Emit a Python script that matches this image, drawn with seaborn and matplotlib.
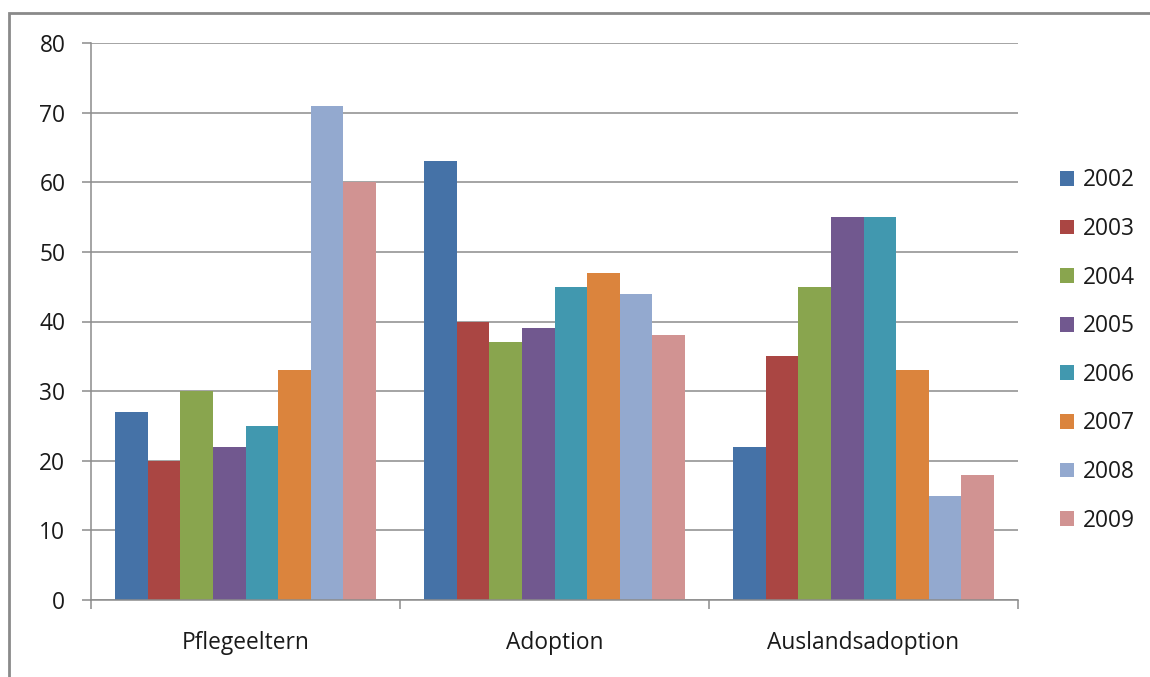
import matplotlib
matplotlib.use("Agg")
import matplotlib.pyplot as plt
from matplotlib.patches import Rectangle
from matplotlib.ticker import FixedLocator
import seaborn as sns
import pandas as pd

categories = ["Pflegeeltern", "Adoption", "Auslandsadoption"]
years = ["2002", "2003", "2004", "2005", "2006", "2007", "2008", "2009"]
v2002 = [27, 63, 22]
v2003 = [20, 40, 35]
v2004 = [30, 37, 45]
v2005 = [22, 39, 55]
v2006 = [25, 45, 55]
v2007 = [33, 47, 33]
v2008 = [71, 44, 15]
v2009 = [60, 38, 18]
yticks = [0, 10, 20, 30, 40, 50, 60, 70, 80]

colors = ["#4572A7", "#AA4643", "#89A54E", "#71588F",
          "#4198AF", "#DB843D", "#93A9CF", "#D19392"]

series = [v2002, v2003, v2004, v2005, v2006, v2007, v2008, v2009]
rows = []
for yr, vals in zip(years, series):
    for cat, v in zip(categories, vals):
        rows.append({"Kategorie": cat, "Jahr": yr, "Wert": v})
df = pd.DataFrame(rows)

sns.set_theme(style="white")
plt.rcParams["font.family"] = ["Open Sans", "DejaVu Sans"]

FS = 16.4
W, H = 1150, 677
fig = plt.figure(figsize=(W / 100, H / 100), dpi=100)
ax = fig.add_axes([91 / W, 1 - 600 / H, (1018 - 91) / W, (600 - 43) / H])

sns.barplot(data=df, x="Kategorie", y="Wert", hue="Jahr", order=categories,
            hue_order=years, palette=colors, width=0.845, saturation=1,
            linewidth=0, errorbar=None, ax=ax, legend=False)

grid_c = "#8c8c8c"
ax.set_xlim(-0.5, 2.5)
ax.set_ylim(0, 80)
ax.set_yticks(yticks)
ax.set_yticklabels([str(t) for t in yticks])
ax.yaxis.grid(True, color=grid_c, linewidth=1.1)
ax.set_axisbelow(True)
ax.set_xlabel("")
ax.set_ylabel("")

for s in ["top", "right"]:
    ax.spines[s].set_visible(False)
for s in ["left", "bottom"]:
    ax.spines[s].set_color(grid_c)
    ax.spines[s].set_linewidth(1.1)

ax.xaxis.set_minor_locator(FixedLocator([-0.5, 0.5, 1.5, 2.5]))
ax.tick_params(axis="x", which="major", length=0, pad=22, labelsize=FS,
               labelcolor="#1a1a1a")
ax.tick_params(axis="x", which="minor", length=6.5, width=1.1, color=grid_c,
               direction="out", bottom=True)
ax.tick_params(axis="y", which="major", length=6.5, width=1.1, color=grid_c,
               direction="out", left=True, pad=12, labelsize=FS,
               labelcolor="#1a1a1a")

# Legend with square colour keys
handles = [Rectangle((0, 0), 1, 1, facecolor=c, edgecolor="none") for c in colors]
fig.legend(handles, years, loc="center left",
           bbox_to_anchor=(1060 / W, 1 - 350.5 / H),
           bbox_transform=fig.transFigure, frameon=False,
           borderpad=0, borderaxespad=0, handlelength=0.62, handleheight=0.62,
           handletextpad=0.4, labelspacing=1.08, fontsize=FS,
           labelcolor="#1a1a1a")

# Chart area frame
fig.add_artist(Rectangle((9 / W, -0.2), 1.5, 1.2 - 13 / H,
                         transform=fig.transFigure, fill=False,
                         edgecolor="#8a8a8a", linewidth=2))

fig.savefig("out.png", dpi=100)
